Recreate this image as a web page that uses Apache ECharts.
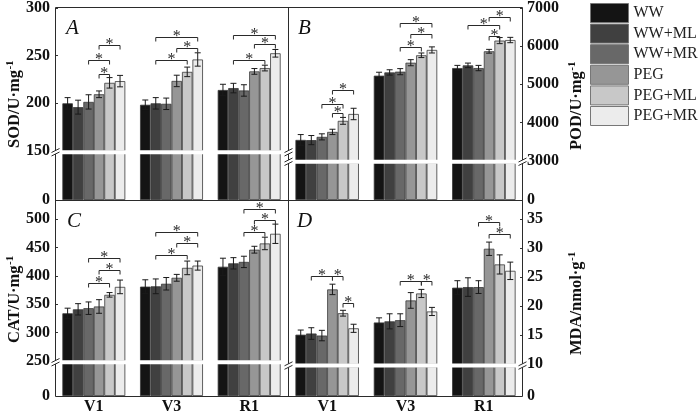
<!DOCTYPE html>
<html><head><meta charset="utf-8">
<script src="https://cdn.jsdelivr.net/npm/echarts@6/dist/echarts.min.js"></script>
<style>html,body{margin:0;padding:0;background:#fff}#c{width:700px;height:415px}</style>
</head><body><div id="c"></div>
<script>
// ---------------- DATA ----------------
const categories = ['V1', 'V3', 'R1'];
const treatments = ['WW', 'WW+ML', 'WW+MR', 'PEG', 'PEG+ML', 'PEG+MR'];

// each row: one category (V1, V3, R1); columns: the six treatments
const sodMean = [[200, 196, 201.5, 209.5, 221.5, 223.3], [198.5, 200, 199.5, 223.5, 233, 246], [214, 216, 213.5, 233.5, 237, 252.5]];
const sodErr  = [[6, 7.3, 7.5, 3.5, 5.5, 6], [5, 6, 6, 6, 5, 7], [6, 5, 6, 3, 3, 4]];
const podMean = [[3540, 3535, 3620, 3750, 4040, 4220], [5225, 5310, 5330, 5565, 5760, 5900], [5425, 5495, 5425, 5865, 6145, 6160]];
const podErr  = [[140, 120, 80, 70, 90, 150], [90, 70, 80, 80, 60, 80], [70, 60, 70, 50, 80, 70]];
const catMean = [[334, 341, 343, 346, 366.5, 380.5], [381, 381.5, 386, 396.5, 414, 418], [416, 422, 424.5, 446, 457, 474]];
const catErr  = [[9, 10, 11, 12, 4, 12], [12, 13, 11, 6, 12, 8], [15, 10, 10, 6, 11, 17]];
const mdaMean = [[15.1, 15.3, 14.95, 22.9, 18.8, 16.2], [17.2, 17.4, 17.6, 21.0, 22.2, 19.1], [23.2, 23.3, 23.3, 29.9, 27.2, 26.1]];
const mdaErr  = [[0.8, 1.0, 0.9, 0.9, 0.5, 0.7], [0.8, 1.3, 1.1, 1.35, 0.7, 0.7], [1.2, 1.6, 1.1, 1.15, 1.65, 1.5]];

// significance brackets: [category index, from treatment, to treatment, bracket value]
const sodBrackets = [[0, 3, 4, 231], [0, 2, 4, 245], [0, 3, 5, 261.5], [1, 1, 4, 245], [1, 3, 5, 258], [1, 1, 5, 270], [2, 1, 4, 245], [2, 3, 5, 262.5], [2, 1, 5, 272]];
const podBrackets = [[0, 3, 4, 4240], [0, 2, 4, 4470], [0, 3, 5, 4840], [1, 2, 4, 5970], [1, 3, 5, 6310], [1, 2, 5, 6600], [2, 3, 4, 6255], [2, 1, 4, 6545], [2, 3, 5, 6775]];
const catBrackets = [[0, 2, 4, 388], [0, 3, 5, 411], [0, 2, 5, 432], [1, 1, 4, 436], [1, 3, 5, 458], [1, 1, 5, 477], [2, 2, 4, 477], [2, 3, 5, 499], [2, 2, 5, 517]];
const mdaBrackets = [[0, 1, 3, 25.2], [0, 3, 4, 25.2], [0, 4, 5, 20.6], [1, 2, 4, 24.4], [1, 4, 5, 24.4], [2, 2, 4, 34.5], [2, 3, 5, 32.5]];

// axis: [break value, top of axis, tick step]
const sodAxis = [150, 300, 50];
const podAxis = [3000, 7000, 1000];
const catAxis = [250, 533.5, 50];
const mdaAxis = [10, 38.3, 5];

// axis titles (main text, superscript)
const titles = [['SOD/U·mg', '-1'], ['POD/U·mg', '-1'], ['CAT/U·mg', '-1'], ['MDA/nmol·g', '-1']];

// ---------------- STYLE / LAYOUT ----------------
const FONT = 'Liberation Serif';
const barColors = ['#141414', '#404040', '#686868', '#969696', '#c8c8c8', '#ececec'];
const CAT_GAP = 0.19;
const panels = [
  {mean: sodMean, err: sodErr, br: sodBrackets, axis: sodAxis, left: 55, width: 233, upTop: 7, upBot: 151, lowTop: 153.5, lowBot: 200, side: 'left', showCat: false, letter: 'A', lx: 66, ly: 18, tx: 15, ty: 148},
  {mean: podMean, err: podErr, br: podBrackets, axis: podAxis, left: 288, width: 235, upTop: 7, upBot: 160.5, lowTop: 163, lowBot: 200, side: 'right', showCat: false, letter: 'B', lx: 298, ly: 18, tx: 577, ty: 150},
  {mean: catMean, err: catErr, br: catBrackets, axis: catAxis, left: 55, width: 233, upTop: 200, upBot: 361, lowTop: 363.5, lowBot: 397, side: 'left', showCat: true, letter: 'C', lx: 67, ly: 211, tx: 15, ty: 343},
  {mean: mdaMean, err: mdaErr, br: mdaBrackets, axis: mdaAxis, left: 288, width: 235, upTop: 200, upBot: 364.3, lowTop: 366.8, lowBot: 397, side: 'right', showCat: true, letter: 'D', lx: 297, ly: 211, tx: 577, ty: 355}
];

function barX(api, cat, t) {
  const c = api.coord([cat, 0])[0];
  const bandW = api.size([1, 0])[0];
  const groupW = bandW * (1 - CAT_GAP);
  const bw = groupW / treatments.length;
  return c - groupW / 2 + (t + 0.5) * bw;
}
function errRender(params, api) {
  const cat = api.value(0), m = api.value(1), e = api.value(2), t = api.value(3);
  const x = barX(api, cat, t);
  const y1 = api.coord([cat, m - e])[1], y2 = api.coord([cat, m + e])[1];
  const st = {stroke: '#1a1a1a', lineWidth: 1};
  return {type: 'group', children: [
    {type: 'line', shape: {x1: x, y1: y1, x2: x, y2: y2}, style: st},
    {type: 'line', shape: {x1: x - 3, y1: y1, x2: x + 3, y2: y1}, style: st},
    {type: 'line', shape: {x1: x - 3, y1: y2, x2: x + 3, y2: y2}, style: st}
  ]};
}
function brRender(params, api) {
  const cat = api.value(0), a = api.value(1), b = api.value(2), v = api.value(3);
  const xa = barX(api, cat, a), xb = barX(api, cat, b);
  const y = Math.round(api.coord([cat, v])[1]) + 0.5;
  const st = {stroke: '#2a2a2a', lineWidth: 1};
  return {type: 'group', children: [
    {type: 'polyline', shape: {points: [[xa, y + 4], [xa, y], [xb, y], [xb, y + 4]]}, style: Object.assign({fill: null}, st)},
    {type: 'text', x: (xa + xb) / 2, y: y - 1, style: {text: '*', fill: '#2a2a2a', font: '16px "' + FONT + '"', align: 'center', verticalAlign: 'middle'}}
  ]};
}

const grid = [], xAxis = [], yAxis = [], series = [];
const tickFont = {fontFamily: FONT, fontWeight: 'bold', fontSize: 16, color: '#111'};
panels.forEach((p, pi) => {
  [0, 1].forEach(part => {
    const gi = pi * 2 + part;
    const top = part === 0 ? p.upTop : p.lowTop;
    const bot = part === 0 ? p.upBot : p.lowBot;
    grid.push({left: p.left, width: p.width, top: top, height: bot - top, containLabel: false});
    xAxis.push({type: 'category', gridIndex: gi, data: categories,
      axisLine: {show: false}, axisTick: {show: false}, splitLine: {show: false},
      axisLabel: {show: part === 1 && p.showCat, margin: 3, fontFamily: FONT, fontWeight: 'bold', fontSize: 16, color: '#111'}});
    const step = p.axis[2];
    if (part === 0) {
      yAxis.push({type: 'value', gridIndex: gi, position: p.side, min: p.axis[0], max: p.axis[1], interval: step,
        splitLine: {show: false}, axisLine: {show: false},
        axisTick: {show: true, inside: true, length: 3, lineStyle: {color: '#333'}},
        axisLabel: Object.assign({margin: p.side === 'left' ? 5 : 4,
          formatter: v => (Math.abs(v / step - Math.round(v / step)) < 1e-6 ? String(v) : '')}, tickFont)});
    } else {
      yAxis.push({type: 'value', gridIndex: gi, position: p.side, min: 0, max: p.axis[0], interval: p.axis[0],
        splitLine: {show: false}, axisLine: {show: false}, axisTick: {show: false},
        axisLabel: Object.assign({margin: p.side === 'left' ? 5 : 4, showMaxLabel: false}, tickFont)});
    }
    treatments.forEach((name, t) => {
      series.push({type: 'bar', name: name, xAxisIndex: gi, yAxisIndex: gi,
        data: p.mean.map(row => row[t]), barGap: '0%', barCategoryGap: (CAT_GAP * 100) + '%',
        clip: true, silent: true, animation: false,
        itemStyle: {color: barColors[t], borderColor: '#3a3a3a', borderWidth: 0.8}});
    });
  });
  const errData = [];
  p.mean.forEach((row, c) => row.forEach((m, t) => errData.push([c, m, p.err[c][t], t])));
  series.push({type: 'custom', xAxisIndex: pi * 2, yAxisIndex: pi * 2, data: errData, renderItem: errRender,
    encode: {x: 0, y: 1}, silent: true, animation: false, z: 5});
  series.push({type: 'custom', xAxisIndex: pi * 2, yAxisIndex: pi * 2, data: p.br, renderItem: brRender,
    encode: {x: 0, y: 3}, silent: true, animation: false, z: 5, clip: false});
});

// frame + break bands/marks + panel letters + axis titles
const FR = '#2b2b2b';
const graphic = [
  {type: 'rect', shape: {x: 55.5, y: 7.5, width: 467, height: 389}, style: {fill: null, stroke: FR, lineWidth: 1}, z: 10},
  {type: 'line', shape: {x1: 288.5, y1: 7.5, x2: 288.5, y2: 396.5}, style: {stroke: FR, lineWidth: 1}, z: 10},
  {type: 'line', shape: {x1: 55.5, y1: 200.5, x2: 522.5, y2: 200.5}, style: {stroke: FR, lineWidth: 1}, z: 10}
];
function breakMark(x, y1, y2) {
  graphic.push({type: 'rect', shape: {x: x - 2, y: y1, width: 4, height: y2 - y1}, style: {fill: '#fff'}, z: 11});
  graphic.push({type: 'line', shape: {x1: x - 4, y1: y1 + 2, x2: x + 4, y2: y1 - 2}, style: {stroke: FR, lineWidth: 1}, z: 12});
  graphic.push({type: 'line', shape: {x1: x - 4, y1: y2 + 2, x2: x + 4, y2: y2 - 2}, style: {stroke: FR, lineWidth: 1}, z: 12});
}
panels.forEach(p => {
  // white band hiding the clipped bar edges at the axis break
  graphic.push({type: 'rect', shape: {x: p.left + 1, y: p.upBot - 0.7, width: p.width - 2, height: p.lowTop - p.upBot + 1.4}, style: {fill: '#fff'}, z: 9});
});
breakMark(55.5, 150.5, 154); breakMark(288.5, 150.5, 154);
breakMark(288.5, 160, 163.5); breakMark(522.5, 160, 163.5);
breakMark(55.5, 360.5, 364);
breakMark(288.5, 363.8, 367.3); breakMark(522.5, 363.8, 367.3);

const measure = document.createElement('canvas').getContext('2d');
const TITLE_FONT = 'bold 16.5px "' + FONT + '"';
measure.font = TITLE_FONT;
panels.forEach((p, i) => {
  graphic.push({type: 'text', x: p.lx, y: p.ly, z: 12, style: {text: p.letter, fill: '#111', font: 'italic 21px "' + FONT + '"', verticalAlign: 'top'}});
  const w = measure.measureText(titles[i][0]).width;
  graphic.push({type: 'text', x: p.tx, y: p.ty, rotation: Math.PI / 2, z: 12,
    style: {text: titles[i][0], font: TITLE_FONT, fill: '#111', align: 'left', verticalAlign: 'middle'}});
  graphic.push({type: 'text', x: p.tx - 5, y: p.ty - w - 0.5, rotation: Math.PI / 2, z: 12,
    style: {text: titles[i][1], font: 'bold 11px "' + FONT + '"', fill: '#111', align: 'left', verticalAlign: 'middle'}});
});

const chart = echarts.init(document.getElementById('c'), null, {renderer: 'canvas'});
chart.setOption({
  animation: false,
  backgroundColor: '#fff',
  grid: grid, xAxis: xAxis, yAxis: yAxis, series: series, graphic: graphic,
  legend: {data: treatments, orient: 'vertical', left: 590, top: 3, padding: 0, itemWidth: 38, itemHeight: 19, itemGap: 0.6,
    icon: 'rect', selectedMode: false, itemStyle: {borderColor: '#777', borderWidth: 1},
    textStyle: {fontFamily: FONT, fontSize: 16, color: '#222'}}
});
</script></body></html>
